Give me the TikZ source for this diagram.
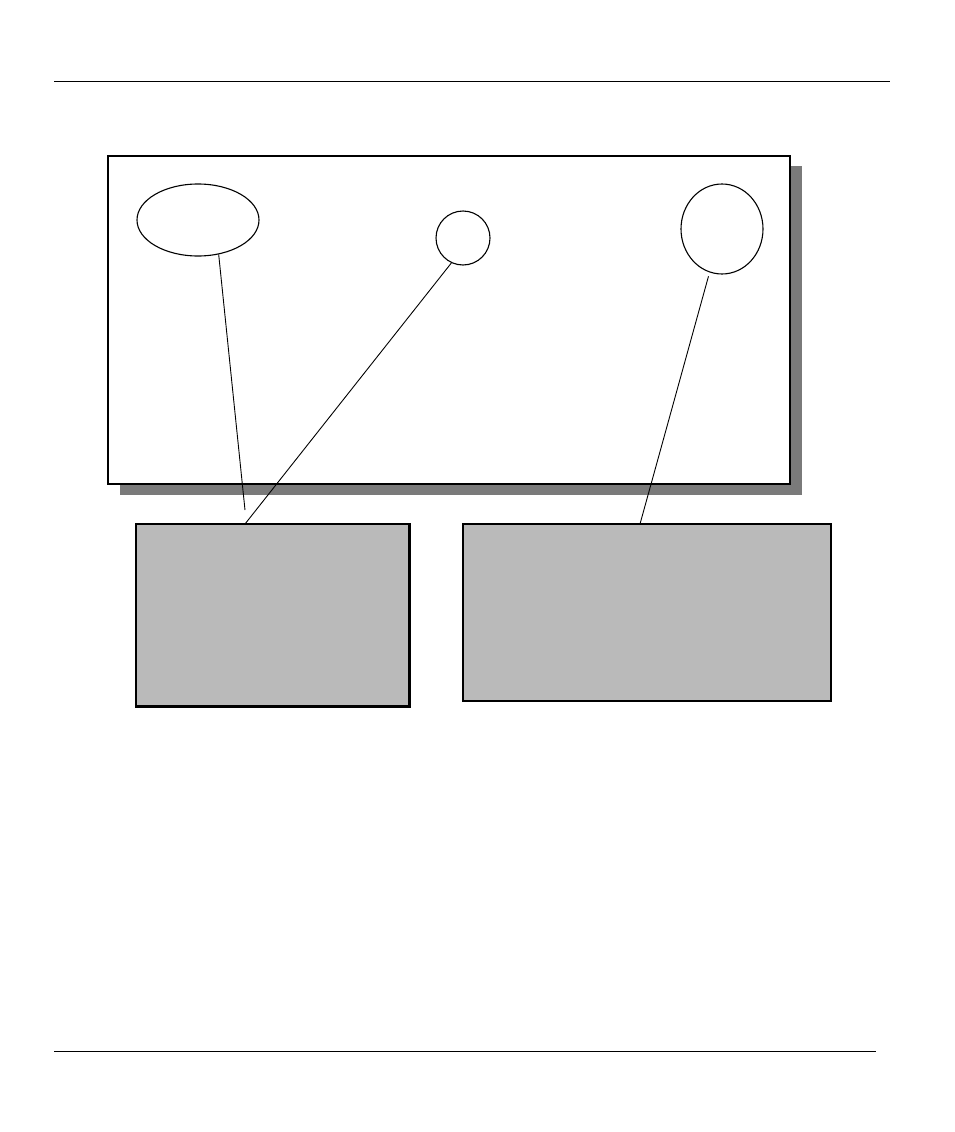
\documentclass[tikz,border=0pt]{standalone}
\usetikzlibrary{shapes.geometric}
\definecolor{shadowgray}{HTML}{7A7A7A}
\definecolor{boxgray}{HTML}{BABABA}
\tikzset{
  rule/.style={line width=1pt},
  outline/.style={draw, line width=1.1pt, inner sep=0pt},
  callout/.style={line width=0.9pt},
  graybox/.style={outline, rectangle, fill=boxgray}
}
\begin{document}
\begin{tikzpicture}[x=1pt, y=-1pt]
    \useasboundingbox (0,0) rectangle (954,1132);
    	% page rules:
    	\draw [rule] (54,81) -- (890,81);
    	\draw [rule] (54,1051) -- (876,1051);
    	% panel with shadow:
    	\fill [shadowgray] (120,166) rectangle (802,495);
    	\node [outline, rectangle, fill=white, minimum width=682pt, minimum height=328pt] (panel) at (449,320) {};
    	% marks on the panel:
    	\node [outline, ellipse, minimum width=122pt, minimum height=72pt] (oval) at (198,220) {};
    	\node [outline, circle, minimum size=54pt] (dot) at (463,238) {};
    	\node [outline, ellipse, minimum width=82pt, minimum height=90pt] (egg) at (722,229) {};
    	% boxes below:
    	\node [graybox, minimum width=273pt, minimum height=182pt] (leftbox) at (272.5,615) {};
    	\draw [line width=2pt] (leftbox.north east) -- (leftbox.south east) -- (leftbox.south west);
    	\node [graybox, minimum width=368pt, minimum height=177pt] (rightbox) at (647,612.5) {};
    	% callouts:
    	\coordinate (tipa) at (245,510);
    	\coordinate (tipb) at (245,524);
    	\coordinate (tipc) at (640,524);
    	\draw [callout] (oval.-59) -- (tipa);
    	\draw [callout] (dot.-115) -- (tipb);
    	\draw [callout, shorten <=4pt] (egg.-106) -- (tipc);
\end{tikzpicture}
\end{document}
